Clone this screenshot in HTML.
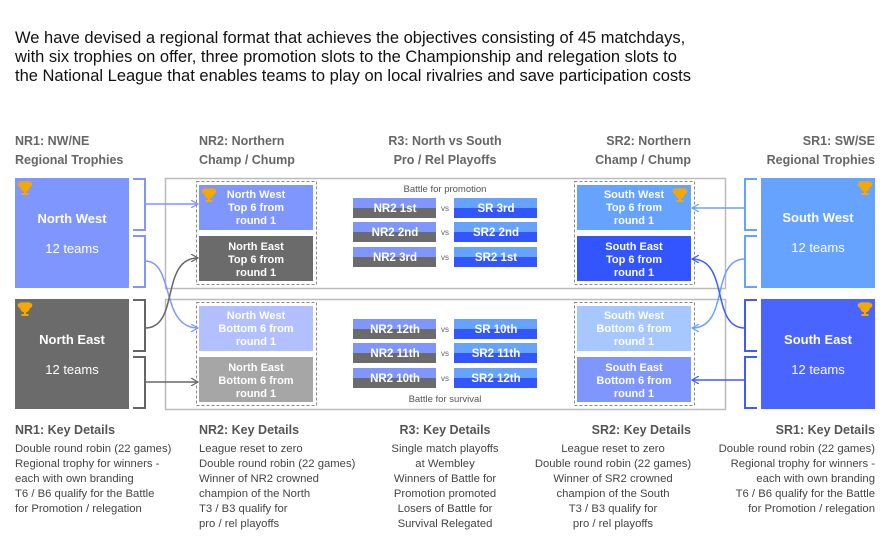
<!DOCTYPE html>
<html><head><meta charset="utf-8"><style>
body{margin:0;background:#fff;}
svg{display:block;font-family:"Liberation Sans",Arial,sans-serif;}
</style></head><body>
<svg width="891" height="543" viewBox="0 0 891 543" xmlns="http://www.w3.org/2000/svg">
<defs>
<g id="tr"><path d="M-4.5,-6 h9 v4 a4.5,5 0 0 1 -9,0 z M-4.5,-5 h-2 a3,3 0 0 0 3,4 M4.5,-5 h2 a3,3 0 0 1 -3,4" fill="#f5a800" stroke="#f5a800" stroke-width="1.2"/><rect x="-1" y="2" width="2" height="3" fill="#f5a800"/><rect x="-3.5" y="5" width="7" height="2" fill="#f5a800"/></g>
<marker id="ab" markerWidth="8" markerHeight="8" refX="7" refY="4" orient="auto" markerUnits="userSpaceOnUse"><path d="M0,0 L7,4 L0,8" fill="none" stroke="#7f96ff" stroke-width="1.2"/></marker>
<marker id="ag" markerWidth="8" markerHeight="8" refX="7" refY="4" orient="auto" markerUnits="userSpaceOnUse"><path d="M0,0 L7,4 L0,8" fill="none" stroke="#666" stroke-width="1.2"/></marker>
<marker id="as" markerWidth="8" markerHeight="8" refX="7" refY="4" orient="auto" markerUnits="userSpaceOnUse"><path d="M0,0 L7,4 L0,8" fill="none" stroke="#66a3ff" stroke-width="1.2"/></marker>
<marker id="ae" markerWidth="8" markerHeight="8" refX="7" refY="4" orient="auto" markerUnits="userSpaceOnUse"><path d="M0,0 L7,4 L0,8" fill="none" stroke="#3f5bff" stroke-width="1.2"/></marker>
</defs>
<g font-size="16.5" fill="#111">
<text x="15" y="43">We have devised a regional format that achieves the objectives consisting of 45 matchdays,</text>
<text x="15" y="62">with six trophies on offer, three promotion slots to the Championship and relegation slots to</text>
<text x="15" y="81">the National League that enables teams to play on local rivalries and save participation costs</text>
</g>
<g font-size="12.5" font-weight="bold" fill="#666">
<text x="15" y="145">NR1: NW/NE</text><text x="15" y="164">Regional Trophies</text>
<text x="199" y="145">NR2: Northern</text><text x="199" y="164">Champ / Chump</text>
<text x="445" y="145" text-anchor="middle">R3: North vs South</text><text x="445" y="164" text-anchor="middle">Pro / Rel Playoffs</text>
<text x="691" y="145" text-anchor="end">SR2: Northern</text><text x="691" y="164" text-anchor="end">Champ / Chump</text>
<text x="875" y="145" text-anchor="end">SR1: SW/SE</text><text x="875" y="164" text-anchor="end">Regional Trophies</text>
</g>
<rect x="165.5" y="178.5" width="560" height="110" fill="none" stroke="#bbb" stroke-width="1.5"/>
<rect x="165.5" y="299.5" width="560" height="110" fill="none" stroke="#bbb" stroke-width="1.5"/>
<rect x="15" y="178" width="114" height="110" fill="#7f96ff"/>
<rect x="15" y="299" width="114" height="110" fill="#6b6b6b"/>
<rect x="761" y="178" width="114" height="110" fill="#66a3ff"/>
<rect x="761" y="299" width="114" height="110" fill="#4a64ff"/>
<use href="#tr" x="25" y="188"/><use href="#tr" x="25" y="309"/><use href="#tr" x="865" y="188"/><use href="#tr" x="865" y="309"/>
<g font-size="13" fill="#fff" text-anchor="middle">
<text x="72" y="223" font-weight="bold">North West</text><text x="72" y="253">12 teams</text>
<text x="72" y="344" font-weight="bold">North East</text><text x="72" y="374">12 teams</text>
<text x="818" y="222" font-weight="bold">South West</text><text x="818" y="252">12 teams</text>
<text x="818" y="344" font-weight="bold">South East</text><text x="818" y="374">12 teams</text>
</g>
<g fill="none" stroke-width="2">
<path d="M133,179 H145 V230 H133" stroke="#7f96ff"/><path d="M133,236 H145 V287 H133" stroke="#7f96ff"/>
<path d="M133,300 H145 V351 H133" stroke="#666"/><path d="M133,357 H145 V408 H133" stroke="#666"/>
<path d="M757,179 H745 V230 H757" stroke="#66a3ff"/><path d="M757,236 H745 V287 H757" stroke="#66a3ff"/>
<path d="M757,300 H745 V351 H757" stroke="#3f5bff"/><path d="M757,357 H745 V408 H757" stroke="#3f5bff"/>
</g>
<rect x="196.5" y="181.5" width="120" height="103" fill="none" stroke="#888" stroke-dasharray="3,2"/>
<rect x="196.5" y="302.5" width="120" height="103" fill="none" stroke="#888" stroke-dasharray="3,2"/>
<rect x="574.5" y="181.5" width="120" height="103" fill="none" stroke="#888" stroke-dasharray="3,2"/>
<rect x="574.5" y="302.5" width="120" height="103" fill="none" stroke="#888" stroke-dasharray="3,2"/>
<rect x="199" y="185" width="114" height="45" fill="#7f96ff"/>
<rect x="199" y="236" width="114" height="45" fill="#6b6b6b"/>
<rect x="199" y="306" width="114" height="45" fill="#b3c0ff"/>
<rect x="199" y="357" width="114" height="45" fill="#a6a6a6"/>
<rect x="577" y="185" width="114" height="45" fill="#66a3ff"/>
<rect x="577" y="236" width="114" height="45" fill="#3355ff"/>
<rect x="577" y="306" width="114" height="45" fill="#a6c8ff"/>
<rect x="577" y="357" width="114" height="45" fill="#7f96ff"/>
<use href="#tr" x="209" y="195"/><use href="#tr" x="680" y="195"/>
<g font-size="11" font-weight="bold" fill="#fff" text-anchor="middle">
<text x="256" y="198">North West</text><text x="256" y="211">Top 6 from</text><text x="256" y="224">round 1</text>
<text x="256" y="250">North East</text><text x="256" y="263">Top 6 from</text><text x="256" y="276">round 1</text>
<text x="256" y="319">North West</text><text x="256" y="332">Bottom 6 from</text><text x="256" y="345">round 1</text>
<text x="256" y="371">North East</text><text x="256" y="384">Bottom 6 from</text><text x="256" y="397">round 1</text>
<text x="634" y="198">South West</text><text x="634" y="211">Top 6 from</text><text x="634" y="224">round 1</text>
<text x="634" y="250">South East</text><text x="634" y="263">Top 6 from</text><text x="634" y="276">round 1</text>
<text x="634" y="319">South West</text><text x="634" y="332">Bottom 6 from</text><text x="634" y="345">round 1</text>
<text x="634" y="371">South East</text><text x="634" y="384">Bottom 6 from</text><text x="634" y="397">round 1</text>
</g>
<g fill="none" stroke-width="1.5">
<path d="M145,204 H198" stroke="#7f96ff" marker-end="url(#ab)"/>
<path d="M145,261 C175,261 160,328 198,328" stroke="#7f96ff" marker-end="url(#ab)"/>
<path d="M145,328 C180,328 160,258 198,258" stroke="#666" marker-end="url(#ag)"/>
<path d="M145,382 H198" stroke="#666" marker-end="url(#ag)"/>
<path d="M745,208 H692" stroke="#66a3ff" marker-end="url(#as)"/>
<path d="M745,259 C710,259 730,328 692,328" stroke="#66a3ff" marker-end="url(#as)"/>
<path d="M745,328 C710,328 730,259 692,259" stroke="#3f5bff" marker-end="url(#ae)"/>
<path d="M745,380 H692" stroke="#3f5bff" marker-end="url(#ae)"/>
</g>
<text x="445" y="192" font-size="9.5" fill="#555" text-anchor="middle">Battle for promotion</text>
<text x="445" y="402" font-size="9.5" fill="#555" text-anchor="middle">Battle for survival</text>
<g font-size="11.5" font-weight="bold" fill="#fff" text-anchor="middle">
<g transform="translate(0,198)"><rect x="353" width="83" height="10" fill="#7f96ff"/><rect x="353" y="10" width="83" height="10" fill="#6b6b6b"/><rect x="454" width="83" height="10" fill="#66a3ff"/><rect x="454" y="10" width="83" height="10" fill="#3355ff"/><text x="395" y="14">NR2 1st</text><text x="496" y="14">SR 3rd</text><text x="445" y="13" font-size="8" font-weight="normal" fill="#666">vs</text></g>
<g transform="translate(0,222)"><rect x="353" width="83" height="10" fill="#7f96ff"/><rect x="353" y="10" width="83" height="10" fill="#6b6b6b"/><rect x="454" width="83" height="10" fill="#66a3ff"/><rect x="454" y="10" width="83" height="10" fill="#3355ff"/><text x="395" y="14">NR2 2nd</text><text x="496" y="14">SR2 2nd</text><text x="445" y="13" font-size="8" font-weight="normal" fill="#666">vs</text></g>
<g transform="translate(0,247)"><rect x="353" width="83" height="10" fill="#7f96ff"/><rect x="353" y="10" width="83" height="10" fill="#6b6b6b"/><rect x="454" width="83" height="10" fill="#66a3ff"/><rect x="454" y="10" width="83" height="10" fill="#3355ff"/><text x="395" y="14">NR2 3rd</text><text x="496" y="14">SR2 1st</text><text x="445" y="13" font-size="8" font-weight="normal" fill="#666">vs</text></g>
<g transform="translate(0,319)"><rect x="353" width="83" height="10" fill="#7f96ff"/><rect x="353" y="10" width="83" height="10" fill="#6b6b6b"/><rect x="454" width="83" height="10" fill="#66a3ff"/><rect x="454" y="10" width="83" height="10" fill="#3355ff"/><text x="395" y="14">NR2 12th</text><text x="496" y="14">SR 10th</text><text x="445" y="13" font-size="8" font-weight="normal" fill="#666">vs</text></g>
<g transform="translate(0,343)"><rect x="353" width="83" height="10" fill="#7f96ff"/><rect x="353" y="10" width="83" height="10" fill="#6b6b6b"/><rect x="454" width="83" height="10" fill="#66a3ff"/><rect x="454" y="10" width="83" height="10" fill="#3355ff"/><text x="395" y="14">NR2 11th</text><text x="496" y="14">SR2 11th</text><text x="445" y="13" font-size="8" font-weight="normal" fill="#666">vs</text></g>
<g transform="translate(0,368)"><rect x="353" width="83" height="10" fill="#7f96ff"/><rect x="353" y="10" width="83" height="10" fill="#6b6b6b"/><rect x="454" width="83" height="10" fill="#66a3ff"/><rect x="454" y="10" width="83" height="10" fill="#3355ff"/><text x="395" y="14">NR2 10th</text><text x="496" y="14">SR2 12th</text><text x="445" y="13" font-size="8" font-weight="normal" fill="#666">vs</text></g>
</g>
<g font-size="12.5" font-weight="bold" fill="#555">
<text x="15" y="434">NR1: Key Details</text>
<text x="199" y="434">NR2: Key Details</text>
<text x="445" y="434" text-anchor="middle">R3: Key Details</text>
<text x="691" y="434" text-anchor="end">SR2: Key Details</text>
<text x="875" y="434" text-anchor="end">SR1: Key Details</text>
</g>
<g font-size="11.3" fill="#444">
<text x="15" y="452">Double round robin (22 games)</text><text x="15" y="467">Regional trophy for winners -</text><text x="15" y="482">each with own branding</text><text x="15" y="497">T6 / B6 qualify for the Battle</text><text x="15" y="512">for Promotion / relegation</text>
<text x="199" y="452">League reset to zero</text><text x="199" y="467">Double round robin (22 games)</text><text x="199" y="482">Winner of NR2 crowned</text><text x="199" y="497">champion of the North</text><text x="199" y="512">T3 / B3 qualify for</text><text x="199" y="527">pro / rel playoffs</text>
<g text-anchor="middle"><text x="445" y="452">Single match playoffs</text><text x="445" y="467">at Wembley</text><text x="445" y="482">Winners of Battle for</text><text x="445" y="497">Promotion promoted</text><text x="445" y="512">Losers of Battle for</text><text x="445" y="527">Survival Relegated</text>
<text x="613" y="452">League reset to zero</text><text x="613" y="467">Double round robin (22 games)</text><text x="613" y="482">Winner of SR2 crowned</text><text x="613" y="497">champion of the South</text><text x="613" y="512">T3 / B3 qualify for</text><text x="613" y="527">pro / rel playoffs</text></g>
<g text-anchor="end"><text x="875" y="452">Double round robin (22 games)</text><text x="875" y="467">Regional trophy for winners -</text><text x="875" y="482">each with own branding</text><text x="875" y="497">T6 / B6 qualify for the Battle</text><text x="875" y="512">for Promotion / relegation</text></g>
</g>
</svg>
</body></html>
